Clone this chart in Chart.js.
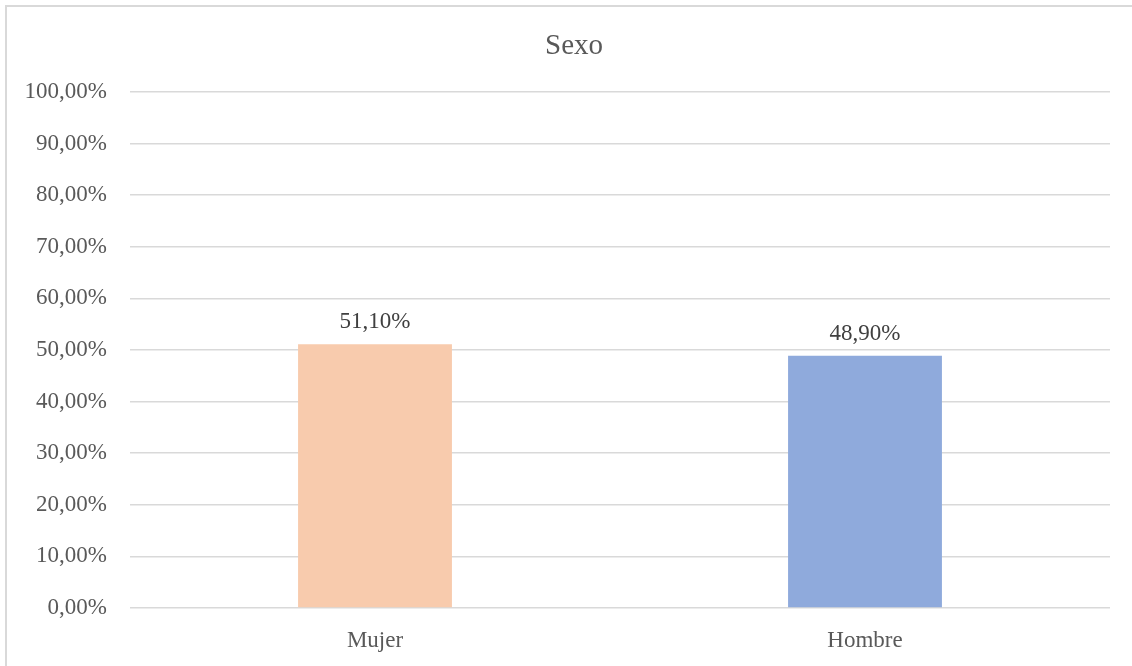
<!DOCTYPE html>
<html>
<head>
<meta charset="utf-8">
<script src="https://cdn.jsdelivr.net/npm/chart.js@4"></script>
<style>
  html, body { margin: 0; padding: 0; background: #fff; }
  #box { position: relative; width: 1132px; height: 666px; }
</style>
</head>
<body>
<div id="box"><canvas id="sexo-chart" width="1132" height="666"></canvas></div>
<script>
const categories = ['Mujer', 'Hombre'];
const values     = [51.10, 48.90];
const barColors  = ['#F8CBAD', '#8FAADC'];
const chartTitle = 'Sexo';

const FONT = "'Liberation Serif', 'Times New Roman', serif";
const pct = v => `${Number(v).toFixed(2).replace('.', ',')}%`;

// white background, thin frame on the left/top edges and the title
const framePlugin = {
  id: 'frame',
  beforeDraw(chart) {
    const { ctx, width, height } = chart;
    ctx.save();
    ctx.fillStyle = '#fff';
    ctx.fillRect(0, 0, width, height);
    ctx.strokeStyle = '#d9d9d9';
    ctx.lineWidth = 2;
    ctx.beginPath();
    ctx.moveTo(6, height + 5);
    ctx.lineTo(6, 6);
    ctx.lineTo(width + 5, 6);
    ctx.stroke();

    ctx.font = `29px ${FONT}`;
    ctx.fillStyle = '#595959';
    ctx.textAlign = 'center';
    ctx.textBaseline = 'alphabetic';
    ctx.fillText(chartTitle, 574, 54);
    ctx.restore();
  }
};

// value labels above each bar
const valueLabels = {
  id: 'valueLabels',
  afterDatasetsDraw(chart) {
    const { ctx } = chart;
    const meta = chart.getDatasetMeta(0);
    ctx.save();
    ctx.font = `23px ${FONT}`;
    ctx.fillStyle = '#404040';
    ctx.textAlign = 'center';
    ctx.textBaseline = 'alphabetic';
    meta.data.forEach((bar, i) => {
      ctx.fillText(pct(values[i]), bar.x, bar.y - 16);
    });
    ctx.restore();
  }
};

new Chart(document.getElementById('sexo-chart'), {
  type: 'bar',
  data: {
    labels: categories,
    datasets: [{
      data: values,
      backgroundColor: barColors,
      borderWidth: 0,
      categoryPercentage: 1,
      barPercentage: 0.314
    }]
  },
  options: {
    responsive: false,
    animation: false,
    layout: { padding: { left: 0, right: 22, top: 92, bottom: 0 } },
    plugins: {
      legend: { display: false },
      tooltip: { enabled: false },
      title: { display: false }
    },
    scales: {
      x: {
        grid: { display: false },
        border: { display: false },
        ticks: { color: '#595959', font: { family: FONT, size: 23 }, padding: 11 },
        afterFit: s => { s.height = 58; }
      },
      y: {
        min: 0,
        max: 100,
        grid: { color: '#d9d9d9', lineWidth: 1.5, drawTicks: false },
        border: { display: false },
        ticks: {
          stepSize: 10,
          color: '#595959',
          font: { family: FONT, size: 23 },
          padding: 23,
          callback: v => pct(v)
        },
        afterFit: s => { s.width = 130; }
      }
    }
  },
  plugins: [framePlugin, valueLabels]
});
</script>
</body>
</html>
